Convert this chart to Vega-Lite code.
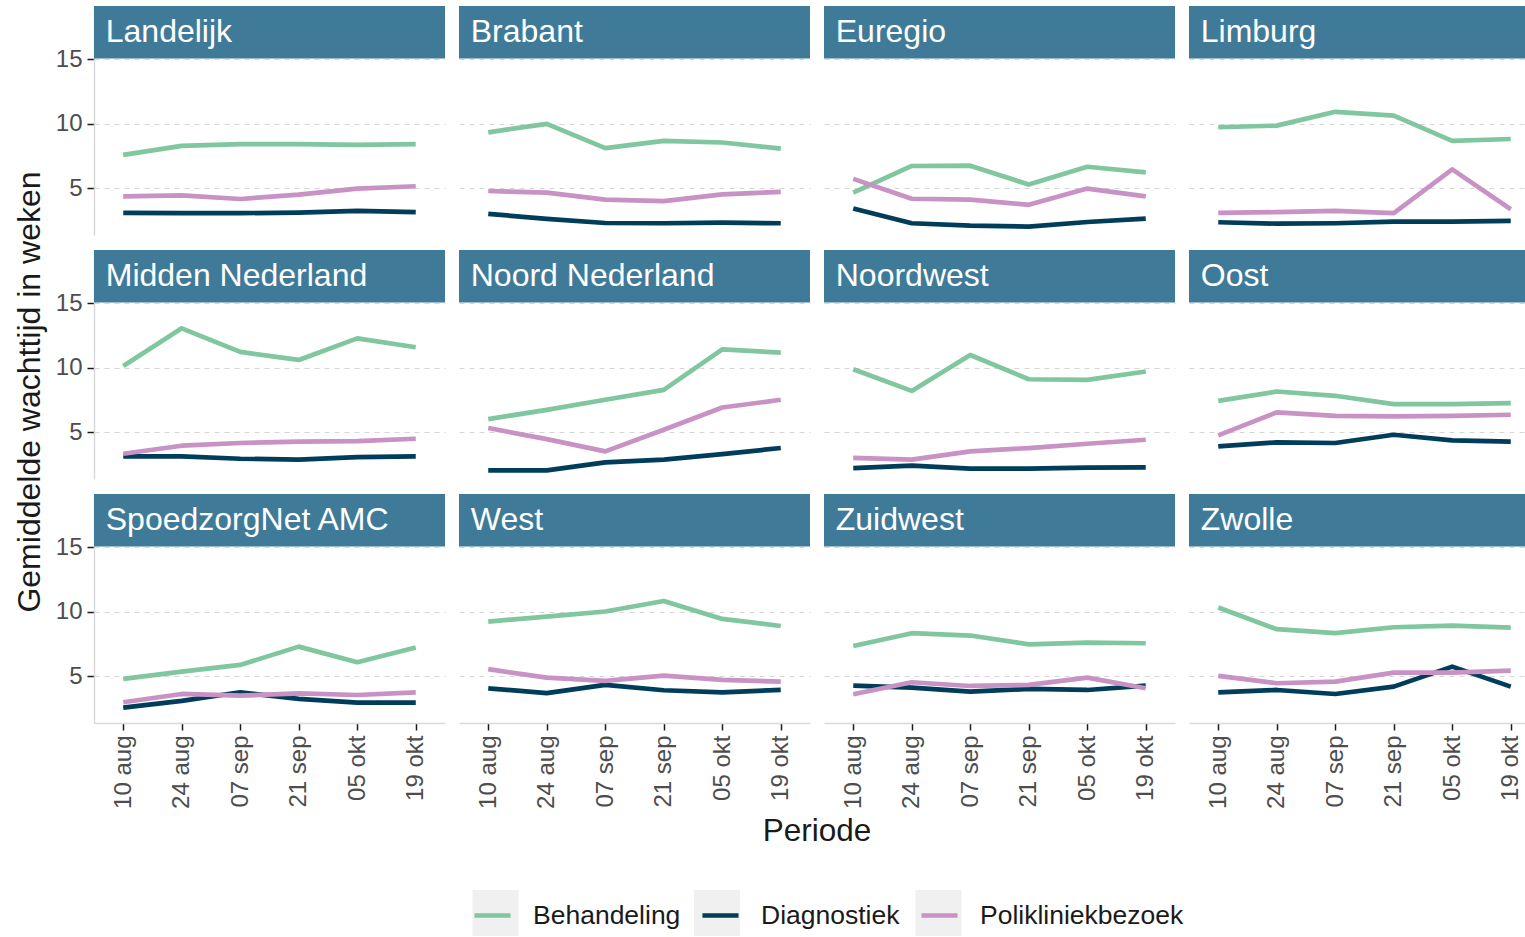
{
  "$schema": "https://vega.github.io/schema/vega-lite/v6.json",
  "padding": {"left": 14, "top": 6, "right": 0, "bottom": 0},
  "title": {
    "text": "Gemiddelde wachttijd in weken", "orient": "left", "anchor": "middle",
    "fontSize": 32, "fontWeight": "normal", "color": "#1a1a1a", "offset": 8, "dx": 79
  },
  "config": {
    "font": "Liberation Sans",
    "view": {"stroke": null},
    "axis": {"titleFontWeight": "normal"}
  },
  "data": {"values": [
    {"regio":"Landelijk","periode":"10 aug","Behandeling":7.60,"Diagnostiek":3.11,"Polikliniekbezoek":4.39},
    {"regio":"Landelijk","periode":"24 aug","Behandeling":8.30,"Diagnostiek":3.08,"Polikliniekbezoek":4.46},
    {"regio":"Landelijk","periode":"07 sep","Behandeling":8.43,"Diagnostiek":3.08,"Polikliniekbezoek":4.18},
    {"regio":"Landelijk","periode":"21 sep","Behandeling":8.43,"Diagnostiek":3.13,"Polikliniekbezoek":4.52},
    {"regio":"Landelijk","periode":"05 okt","Behandeling":8.38,"Diagnostiek":3.26,"Polikliniekbezoek":4.99},
    {"regio":"Landelijk","periode":"19 okt","Behandeling":8.43,"Diagnostiek":3.16,"Polikliniekbezoek":5.17},
    {"regio":"Brabant","periode":"10 aug","Behandeling":9.35,"Diagnostiek":3.03,"Polikliniekbezoek":4.80},
    {"regio":"Brabant","periode":"24 aug","Behandeling":10.0,"Diagnostiek":2.64,"Polikliniekbezoek":4.67},
    {"regio":"Brabant","periode":"07 sep","Behandeling":8.12,"Diagnostiek":2.32,"Polikliniekbezoek":4.13},
    {"regio":"Brabant","periode":"21 sep","Behandeling":8.69,"Diagnostiek":2.30,"Polikliniekbezoek":4.02},
    {"regio":"Brabant","periode":"05 okt","Behandeling":8.56,"Diagnostiek":2.35,"Polikliniekbezoek":4.54},
    {"regio":"Brabant","periode":"19 okt","Behandeling":8.09,"Diagnostiek":2.30,"Polikliniekbezoek":4.73},
    {"regio":"Euregio","periode":"10 aug","Behandeling":4.67,"Diagnostiek":3.45,"Polikliniekbezoek":5.74},
    {"regio":"Euregio","periode":"24 aug","Behandeling":6.74,"Diagnostiek":2.30,"Polikliniekbezoek":4.20},
    {"regio":"Euregio","periode":"07 sep","Behandeling":6.76,"Diagnostiek":2.11,"Polikliniekbezoek":4.13},
    {"regio":"Euregio","periode":"21 sep","Behandeling":5.30,"Diagnostiek":2.04,"Polikliniekbezoek":3.73},
    {"regio":"Euregio","periode":"05 okt","Behandeling":6.68,"Diagnostiek":2.40,"Polikliniekbezoek":4.99},
    {"regio":"Euregio","periode":"19 okt","Behandeling":6.24,"Diagnostiek":2.66,"Polikliniekbezoek":4.39},
    {"regio":"Limburg","periode":"10 aug","Behandeling":9.74,"Diagnostiek":2.38,"Polikliniekbezoek":3.11},
    {"regio":"Limburg","periode":"24 aug","Behandeling":9.87,"Diagnostiek":2.27,"Polikliniekbezoek":3.16},
    {"regio":"Limburg","periode":"07 sep","Behandeling":10.94,"Diagnostiek":2.30,"Polikliniekbezoek":3.26},
    {"regio":"Limburg","periode":"21 sep","Behandeling":10.65,"Diagnostiek":2.43,"Polikliniekbezoek":3.08},
    {"regio":"Limburg","periode":"05 okt","Behandeling":8.69,"Diagnostiek":2.43,"Polikliniekbezoek":6.48},
    {"regio":"Limburg","periode":"19 okt","Behandeling":8.83,"Diagnostiek":2.48,"Polikliniekbezoek":3.39},
    {"regio":"Midden Nederland","periode":"10 aug","Behandeling":10.15,"Diagnostiek":3.14,"Polikliniekbezoek":3.35},
    {"regio":"Midden Nederland","periode":"24 aug","Behandeling":13.07,"Diagnostiek":3.14,"Polikliniekbezoek":3.97},
    {"regio":"Midden Nederland","periode":"07 sep","Behandeling":11.24,"Diagnostiek":2.96,"Polikliniekbezoek":4.18},
    {"regio":"Midden Nederland","periode":"21 sep","Behandeling":10.62,"Diagnostiek":2.89,"Polikliniekbezoek":4.28},
    {"regio":"Midden Nederland","periode":"05 okt","Behandeling":12.29,"Diagnostiek":3.09,"Polikliniekbezoek":4.33},
    {"regio":"Midden Nederland","periode":"19 okt","Behandeling":11.60,"Diagnostiek":3.14,"Polikliniekbezoek":4.51},
    {"regio":"Noord Nederland","periode":"10 aug","Behandeling":6.03,"Diagnostiek":2.06,"Polikliniekbezoek":5.34},
    {"regio":"Noord Nederland","periode":"24 aug","Behandeling":6.75,"Diagnostiek":2.06,"Polikliniekbezoek":4.48},
    {"regio":"Noord Nederland","periode":"07 sep","Behandeling":7.53,"Diagnostiek":2.68,"Polikliniekbezoek":3.53},
    {"regio":"Noord Nederland","periode":"21 sep","Behandeling":8.30,"Diagnostiek":2.89,"Polikliniekbezoek":5.21},
    {"regio":"Noord Nederland","periode":"05 okt","Behandeling":11.44,"Diagnostiek":3.32,"Polikliniekbezoek":6.93},
    {"regio":"Noord Nederland","periode":"19 okt","Behandeling":11.19,"Diagnostiek":3.79,"Polikliniekbezoek":7.53},
    {"regio":"Noordwest","periode":"10 aug","Behandeling":9.90,"Diagnostiek":2.24,"Polikliniekbezoek":3.02},
    {"regio":"Noordwest","periode":"24 aug","Behandeling":8.22,"Diagnostiek":2.42,"Polikliniekbezoek":2.89},
    {"regio":"Noordwest","periode":"07 sep","Behandeling":11.00,"Diagnostiek":2.19,"Polikliniekbezoek":3.53},
    {"regio":"Noordwest","periode":"21 sep","Behandeling":9.12,"Diagnostiek":2.19,"Polikliniekbezoek":3.79},
    {"regio":"Noordwest","periode":"05 okt","Behandeling":9.07,"Diagnostiek":2.27,"Polikliniekbezoek":4.12},
    {"regio":"Noordwest","periode":"19 okt","Behandeling":9.72,"Diagnostiek":2.29,"Polikliniekbezoek":4.43},
    {"regio":"Oost","periode":"10 aug","Behandeling":7.45,"Diagnostiek":3.92,"Polikliniekbezoek":4.77},
    {"regio":"Oost","periode":"24 aug","Behandeling":8.17,"Diagnostiek":4.23,"Polikliniekbezoek":6.55},
    {"regio":"Oost","periode":"07 sep","Behandeling":7.84,"Diagnostiek":4.18,"Polikliniekbezoek":6.29},
    {"regio":"Oost","periode":"21 sep","Behandeling":7.19,"Diagnostiek":4.82,"Polikliniekbezoek":6.24},
    {"regio":"Oost","periode":"05 okt","Behandeling":7.19,"Diagnostiek":4.38,"Polikliniekbezoek":6.29},
    {"regio":"Oost","periode":"19 okt","Behandeling":7.27,"Diagnostiek":4.28,"Polikliniekbezoek":6.37},
    {"regio":"SpoedzorgNet AMC","periode":"10 aug","Behandeling":4.81,"Diagnostiek":2.58,"Polikliniekbezoek":3.00},
    {"regio":"SpoedzorgNet AMC","periode":"24 aug","Behandeling":5.37,"Diagnostiek":3.10,"Polikliniekbezoek":3.64},
    {"regio":"SpoedzorgNet AMC","periode":"07 sep","Behandeling":5.89,"Diagnostiek":3.77,"Polikliniekbezoek":3.51},
    {"regio":"SpoedzorgNet AMC","periode":"21 sep","Behandeling":7.31,"Diagnostiek":3.26,"Polikliniekbezoek":3.69},
    {"regio":"SpoedzorgNet AMC","periode":"05 okt","Behandeling":6.10,"Diagnostiek":2.97,"Polikliniekbezoek":3.56},
    {"regio":"SpoedzorgNet AMC","periode":"19 okt","Behandeling":7.24,"Diagnostiek":2.97,"Polikliniekbezoek":3.77},
    {"regio":"West","periode":"10 aug","Behandeling":9.25,"Diagnostiek":4.08,"Polikliniekbezoek":5.56},
    {"regio":"West","periode":"24 aug","Behandeling":9.64,"Diagnostiek":3.70,"Polikliniekbezoek":4.91},
    {"regio":"West","periode":"07 sep","Behandeling":10.03,"Diagnostiek":4.34,"Polikliniekbezoek":4.65},
    {"regio":"West","periode":"21 sep","Behandeling":10.85,"Diagnostiek":3.93,"Polikliniekbezoek":5.06},
    {"regio":"West","periode":"05 okt","Behandeling":9.46,"Diagnostiek":3.77,"Polikliniekbezoek":4.73},
    {"regio":"West","periode":"19 okt","Behandeling":8.91,"Diagnostiek":3.95,"Polikliniekbezoek":4.60},
    {"regio":"Zuidwest","periode":"10 aug","Behandeling":7.36,"Diagnostiek":4.29,"Polikliniekbezoek":3.62},
    {"regio":"Zuidwest","periode":"24 aug","Behandeling":8.35,"Diagnostiek":4.13,"Polikliniekbezoek":4.55},
    {"regio":"Zuidwest","periode":"07 sep","Behandeling":8.17,"Diagnostiek":3.82,"Polikliniekbezoek":4.26},
    {"regio":"Zuidwest","periode":"21 sep","Behandeling":7.49,"Diagnostiek":4.03,"Polikliniekbezoek":4.34},
    {"regio":"Zuidwest","periode":"05 okt","Behandeling":7.62,"Diagnostiek":3.95,"Polikliniekbezoek":4.91},
    {"regio":"Zuidwest","periode":"19 okt","Behandeling":7.57,"Diagnostiek":4.29,"Polikliniekbezoek":4.08},
    {"regio":"Zwolle","periode":"10 aug","Behandeling":10.34,"Diagnostiek":3.77,"Polikliniekbezoek":5.04},
    {"regio":"Zwolle","periode":"24 aug","Behandeling":8.66,"Diagnostiek":3.95,"Polikliniekbezoek":4.47},
    {"regio":"Zwolle","periode":"07 sep","Behandeling":8.35,"Diagnostiek":3.64,"Polikliniekbezoek":4.60},
    {"regio":"Zwolle","periode":"21 sep","Behandeling":8.81,"Diagnostiek":4.21,"Polikliniekbezoek":5.30},
    {"regio":"Zwolle","periode":"05 okt","Behandeling":8.94,"Diagnostiek":5.76,"Polikliniekbezoek":5.30},
    {"regio":"Zwolle","periode":"19 okt","Behandeling":8.79,"Diagnostiek":4.21,"Polikliniekbezoek":5.45}
  ]},
  "transform": [
    {"fold": ["Behandeling", "Diagnostiek", "Polikliniekbezoek"], "as": ["type", "wachttijd"]},
    {"calculate": "datum.type", "as": "sleutel"}
  ],
  "facet": {
    "field": "regio",
    "type": "nominal",
    "sort": ["Landelijk","Brabant","Euregio","Limburg","Midden Nederland","Noord Nederland","Noordwest","Oost","SpoedzorgNet AMC","West","Zuidwest","Zwolle"],
    "title": "Periode",
    "header": {
      "title": "Periode", "titleOrient": "bottom", "titleFontSize": 31.5, "titleFontWeight": "normal",
      "titleColor": "#1a1a1a", "titlePadding": 7, "titleBaseline": "top",
      "labels": false, "labelExpr": "''", "labelFontSize": 0, "labelPadding": 0
    }
  },
  "columns": 4,
  "spacing": {"row": 15, "column": 14},
  "spec": {
    "width": 351,
    "height": 229,
    "layer": [
      {
        "mark": {"type": "line", "strokeWidth": 4.7, "strokeJoin": "round"},
        "encoding": {
          "x": {
            "field": "periode", "type": "ordinal",
            "sort": ["10 aug","24 aug","07 sep","21 sep","05 okt","19 okt"],
            "scale": {"padding": 0.5},
            "axis": {
              "title": null,
              "labelAngle": -90, "labelFontSize": 24, "labelColor": "#4d4d4d", "labelPadding": 5,
              "tickColor": "#1a1a1a", "tickSize": 7, "tickWidth": 1.5,
              "domainColor": "#d9d9d9", "domainWidth": 1.5, "grid": false
            }
          },
          "y": {
            "field": "wachttijd", "type": "quantitative",
            "scale": {"domain": [1.39, 19.14], "nice": false, "zero": false},
            "axis": {
              "title": null,
              "values": [5, 10, 15], "labelFontSize": 24, "labelColor": "#4d4d4d", "labelPadding": 5,
              "tickColor": "#1a1a1a", "tickSize": 7, "tickWidth": 1.5,
              "domainColor": "#d9d9d9", "domainWidth": 1.5,
              "grid": true, "gridColor": "#d6d6d6", "gridDash": [5, 5], "gridWidth": 1
            }
          },
          "color": {
            "field": "type", "type": "nominal",
            "scale": {"domain": ["Behandeling","Diagnostiek","Polikliniekbezoek"], "range": ["#80C69F","#003D5B","#C892C4"]},
            "legend": {
              "title": null, "orient": "none", "direction": "horizontal", "legendX": 378, "legendY": 889, "zindex": 2,
              "symbolType": "stroke", "symbolStrokeWidth": 4.7, "symbolSize": 1300,
              "labelFontSize": 26.5, "labelColor": "#1a1a1a", "labelOffset": 20, "labelLimit": 0, "columnPadding": 12
            }
          },
          "opacity": {
            "field": "sleutel", "type": "nominal",
            "scale": {"range": [1, 1, 1]},
            "legend": {
              "title": null, "orient": "none", "direction": "horizontal", "legendX": 378.5, "legendY": 884, "zindex": 0,
              "symbolType": "square", "symbolSize": 2116, "symbolFillColor": "#f0f0f0", "symbolStrokeColor": "#f0f0f0", "symbolStrokeWidth": 0,
              "labelExpr": "''", "labelFontSize": 10, "labelOffset": 0, "labelLimit": 0, "columnPadding": 175.5
            }
          }
        }
      },
      {
        "transform": [{"filter": "datum.type === 'Behandeling' && datum.periode === '10 aug'"}],
        "mark": {"type": "rect", "color": "#3F7B99"},
        "encoding": {"y": {"datum": 15.08}, "y2": {"datum": 19.14}}
      },
      {
        "transform": [{"filter": "datum.type === 'Behandeling' && datum.periode === '10 aug'"}],
        "mark": {"type": "text", "align": "left", "baseline": "middle", "color": "white", "fontSize": 32, "dx": -17.5},
        "encoding": {
          "x": {"field": "periode", "type": "ordinal", "sort": ["10 aug","24 aug","07 sep","21 sep","05 okt","19 okt"]},
          "y": {"datum": 17.1},
          "text": {"field": "regio"}
        }
      }
    ]
  }
}
